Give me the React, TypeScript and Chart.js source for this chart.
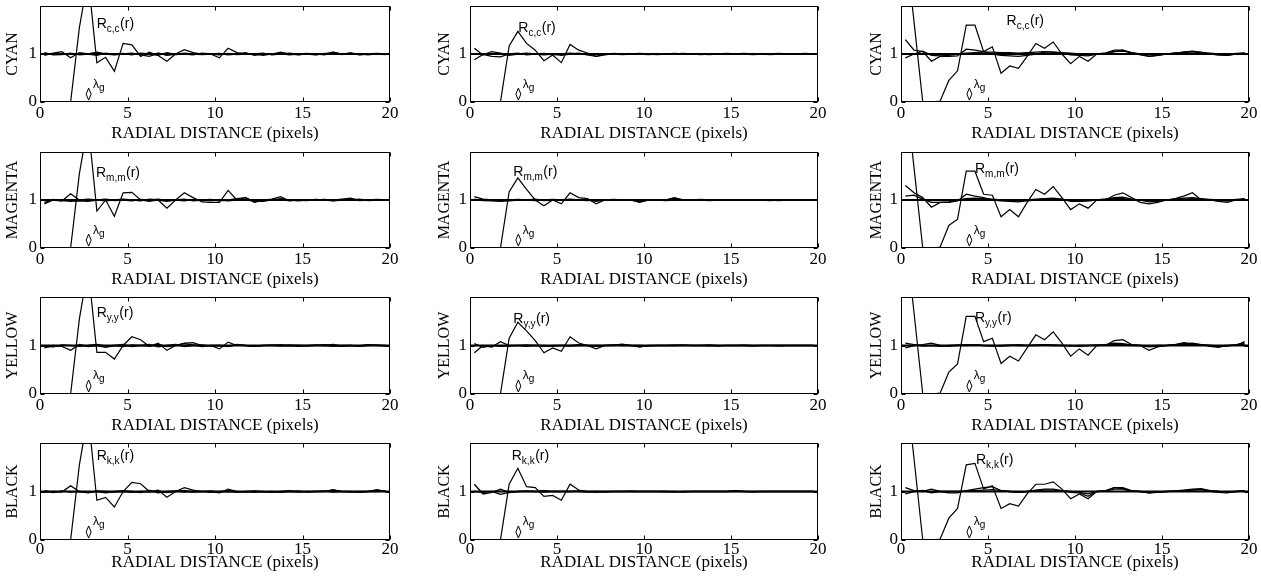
import React, { useEffect, useRef } from "react";
import { Chart, registerables } from "chart.js";

Chart.register(...registerables);

const SERIF = "'Liberation Serif', 'Times New Roman', serif";
const SANS = "'Liberation Sans', Arial, sans-serif";

// ---------- data ----------
const RADII = [
  0.25, 0.75, 1.25, 1.75, 2.25, 2.75, 3.25, 3.75, 4.25, 4.75,
  5.25, 5.75, 6.25, 6.75, 7.25, 7.75, 8.25, 8.75, 9.25, 9.75,
  10.25, 10.75, 11.25, 11.75, 12.25, 12.75, 13.25, 13.75, 14.25, 14.75,
  15.25, 15.75, 16.25, 16.75, 17.25, 17.75, 18.25, 18.75, 19.25, 19.75,
];
const X_TICKS = [0, 5, 10, 15, 20];
const Y_TICKS = [0, 1];
const ROW_NAMES = ["CYAN", "MAGENTA", "YELLOW", "BLACK"];
const ROW_SUBS = ["c,c", "m,m", "y,y", "k,k"];
const X_TITLE = "RADIAL DISTANCE (pixels)";
const LAMBDA_G = [2.78, 2.78, 3.93];
const REF_LEVEL = 1;

// autocorrelation R(r), column A
const R_CYAN_A = [0, 0, 0, 0, 1.55, 2.6, 0.82, 0.93, 0.64, 1.22, 1.19, 0.95, 1.04, 0.97, 0.85, 1.0, 1.09, 1.03, 1.0, 1.0, 0.92, 1.12, 1.03, 1.0, 1.0, 0.97, 1.0, 1.04, 1.0, 0.98, 1.0, 1.0, 0.98, 1.04, 1.0, 1.02, 1.0, 0.98, 1.0, 1.01];
const R_MAG_A = [0, 0, 0, 0, 1.55, 2.6, 0.77, 1.0, 0.66, 1.15, 1.16, 1.0, 0.97, 1.0, 0.83, 1.0, 1.15, 1.05, 0.96, 0.95, 0.95, 1.2, 1.0, 1.05, 0.95, 1.0, 1.02, 1.07, 0.98, 1.0, 1.0, 0.99, 1.01, 1.0, 1.02, 1.04, 0.99, 1.0, 1.0, 1.01];
const R_YEL_A = [0, 0, 0, 0, 1.55, 2.6, 0.86, 0.86, 0.72, 1.0, 1.18, 1.12, 0.98, 1.05, 0.9, 1.0, 1.05, 1.06, 1.0, 1.0, 0.93, 1.07, 1.0, 1.0, 0.98, 1.0, 1.0, 1.02, 1.0, 0.98, 1.0, 1.0, 1.02, 1.0, 0.98, 1.0, 1.0, 1.02, 1.0, 1.0];
const R_BLK_A = [0, 0, 0, 0, 1.55, 2.6, 0.82, 0.88, 0.68, 1.0, 1.19, 1.16, 1.0, 1.03, 0.88, 1.0, 1.08, 1.03, 1.0, 1.0, 0.97, 1.05, 1.0, 1.0, 0.98, 1.0, 1.0, 1.0, 1.02, 0.99, 1.0, 1.0, 1.0, 1.04, 1.0, 1.0, 0.98, 1.0, 1.04, 1.0];
// column B
const R_CYAN_B = [0, 0, 0, 0, 1.17, 1.47, 1.22, 1.08, 0.86, 0.98, 0.82, 1.2, 1.08, 1.02, 0.95, 1.0, 1.01, 1.0, 0.99, 1.0, 1.0, 1.01, 1.0, 1.0, 0.99, 1.0, 1.0, 1.01, 1.0, 1.0, 1.0, 0.99, 1.0, 1.0, 1.01, 1.0, 1.0, 1.0, 0.99, 1.0];
const R_MAG_B = [0, 0, 0, 0, 1.17, 1.46, 1.22, 1.0, 0.88, 1.0, 0.92, 1.15, 1.05, 1.03, 0.92, 1.0, 1.0, 1.01, 1.0, 0.95, 1.0, 1.01, 1.0, 1.05, 1.0, 1.0, 0.99, 1.0, 1.0, 1.0, 1.01, 1.0, 1.0, 1.0, 0.99, 1.0, 1.0, 1.0, 1.0, 1.0];
const R_YEL_B = [0, 0, 0, 0, 1.15, 1.48, 1.3, 1.1, 0.85, 0.95, 0.88, 1.18, 1.05, 1.0, 0.93, 1.0, 1.01, 1.03, 1.0, 0.97, 1.0, 1.0, 1.0, 1.01, 1.0, 1.0, 1.0, 0.99, 1.0, 1.0, 1.0, 1.01, 1.0, 1.0, 1.0, 0.99, 1.0, 1.0, 1.0, 1.0];
const R_BLK_B = [0, 0, 0, 0, 1.15, 1.48, 1.1, 1.08, 0.9, 0.92, 0.82, 1.15, 1.03, 1.0, 0.98, 1.0, 1.0, 1.0, 1.01, 1.0, 1.0, 1.0, 0.99, 1.0, 1.0, 1.0, 1.0, 1.0, 1.0, 1.0, 1.02, 1.0, 1.0, 1.0, 1.0, 1.0, 1.0, 1.0, 1.0, 1.0];
// column C
const R_CYAN_C = [3.3, 1.67, 0, 0, 0.02, 0.45, 0.65, 1.6, 1.6, 1.05, 1.15, 0.6, 0.75, 0.7, 0.95, 1.22, 1.12, 1.25, 1.0, 0.8, 0.95, 0.85, 1.0, 1.0, 1.05, 1.08, 1.02, 1.0, 0.95, 0.97, 1.0, 1.02, 1.04, 1.05, 1.02, 1.0, 0.98, 0.97, 1.0, 1.02];
const R_MAG_C = [3.3, 1.67, 0, 0, 0.02, 0.47, 0.6, 1.6, 1.6, 1.12, 1.1, 0.65, 0.8, 0.65, 0.95, 1.22, 1.12, 1.28, 1.05, 0.8, 0.92, 0.83, 1.0, 1.0, 1.1, 1.15, 1.05, 0.95, 0.92, 0.95, 1.0, 1.03, 1.08, 1.15, 1.0, 1.0, 0.97, 0.95, 1.0, 1.02];
const R_YEL_C = [3.3, 1.67, 0, 0, 0.02, 0.45, 0.62, 1.6, 1.6, 1.08, 1.15, 0.63, 0.78, 0.68, 0.95, 1.22, 1.12, 1.28, 1.05, 0.78, 0.93, 0.8, 1.0, 1.0, 1.1, 1.12, 1.02, 1.0, 0.9, 0.97, 1.0, 1.02, 1.06, 1.03, 1.02, 0.98, 0.96, 1.0, 1.0, 1.08];
const R_BLK_C = [3.3, 1.67, 0, 0, 0.02, 0.45, 0.65, 1.55, 1.58, 1.05, 1.12, 0.65, 0.75, 0.7, 0.95, 1.15, 1.15, 1.2, 1.05, 0.85, 0.95, 0.85, 1.0, 1.0, 1.08, 1.06, 1.0, 1.0, 0.97, 0.98, 1.0, 1.0, 1.02, 1.03, 1.05, 1.0, 0.98, 0.97, 1.0, 1.02];

// cross-correlations, column A
const X_CYAN_A1 = [0.97, 1.02, 1.05, 0.92, 1.03, 1.0, 1.04, 1.0, 0.98, 1.0, 1.02, 0.98, 0.95, 1.02, 0.97, 0.99, 1.02, 1.0, 0.99, 1.0, 1.01, 0.98, 1.0, 1.03, 0.97, 1.0, 1.0, 1.01, 0.98, 1.0, 1.01, 0.99, 1.0, 1.04, 0.99, 1.02, 0.98, 1.0, 1.01, 1.0];
const X_CYAN_A2 = [1.03, 0.98, 0.99, 1.02, 0.98, 1.0, 0.97, 1.02, 0.99, 1.01, 0.98, 1.02, 1.0, 0.97, 1.03, 0.99, 1.0, 0.98, 1.02, 1.0, 0.98, 1.01, 0.99, 1.0, 1.0, 1.02, 0.98, 1.0, 1.02, 0.99, 1.0, 0.98, 1.01, 1.0, 1.0, 1.02, 0.99, 1.0, 1.0, 0.99];
const X_MAG_A1 = [0.92, 1.0, 0.98, 1.13, 1.0, 1.02, 1.0, 0.98, 1.0, 1.02, 1.0, 0.98, 1.02, 1.0, 0.97, 1.0, 1.02, 0.98, 1.0, 1.01, 0.98, 1.0, 1.03, 1.05, 0.96, 0.98, 1.0, 1.03, 1.0, 0.98, 1.0, 1.0, 1.01, 0.99, 1.0, 1.03, 0.99, 1.0, 1.01, 1.0];
const X_MAG_A2 = [0.95, 1.01, 0.99, 0.97, 0.98, 0.97, 1.0, 1.02, 0.99, 1.0, 0.98, 1.01, 1.0, 1.02, 0.99, 1.0, 0.98, 1.01, 1.0, 0.99, 1.0, 0.98, 1.0, 1.0, 0.98, 0.97, 1.01, 1.0, 0.99, 1.0, 0.99, 1.01, 1.0, 0.98, 1.0, 1.0, 1.02, 0.99, 1.0, 1.0];
const X_YEL_A1 = [0.95, 1.0, 0.98, 0.9, 1.02, 0.98, 1.0, 0.96, 1.0, 1.02, 0.98, 1.0, 1.02, 0.97, 1.0, 1.02, 0.98, 1.0, 1.01, 0.99, 1.0, 0.98, 1.02, 1.0, 0.99, 1.0, 1.01, 1.0, 0.99, 1.0, 1.0, 1.01, 1.0, 0.98, 1.0, 1.0, 0.98, 1.0, 1.01, 1.0];
const X_YEL_A2 = [0.98, 0.97, 1.01, 1.0, 0.98, 1.0, 1.02, 0.99, 1.0, 0.98, 1.01, 1.0, 0.99, 1.02, 0.98, 1.0, 1.04, 1.01, 0.98, 1.0, 1.0, 0.99, 1.01, 1.0, 0.98, 1.0, 1.0, 0.99, 1.01, 1.0, 0.99, 1.0, 1.0, 1.02, 0.99, 1.0, 0.99, 1.01, 1.0, 0.99];
const X_BLK_A1 = [0.98, 1.0, 0.99, 1.12, 1.0, 0.98, 1.0, 0.97, 1.0, 1.02, 1.0, 0.98, 1.02, 0.97, 1.0, 1.01, 0.99, 1.0, 1.0, 0.98, 1.0, 1.02, 1.0, 0.99, 1.0, 1.0, 0.98, 1.0, 1.0, 0.99, 1.0, 1.0, 1.0, 1.03, 1.0, 0.99, 1.0, 1.0, 1.03, 1.0];
const X_BLK_A2 = [1.02, 0.98, 1.01, 0.99, 1.0, 0.97, 1.01, 1.0, 0.99, 1.0, 0.98, 1.0, 0.99, 1.01, 0.98, 1.0, 1.02, 0.99, 1.0, 1.01, 0.99, 1.0, 0.98, 1.0, 1.01, 0.99, 1.0, 0.98, 1.0, 1.01, 0.99, 1.0, 1.01, 0.99, 1.0, 1.0, 0.99, 1.0, 1.0, 1.01];
// column B
const X_CYAN_B1 = [1.12, 0.98, 1.05, 1.02, 0.97, 1.0, 1.02, 1.0, 0.98, 1.0, 0.97, 1.0, 1.02, 0.98, 0.95, 0.98, 1.01, 1.0, 1.0, 1.01, 1.0, 0.99, 1.0, 1.0, 1.01, 1.0, 0.99, 1.0, 1.0, 1.01, 1.0, 1.0, 0.99, 1.0, 1.0, 1.01, 1.0, 1.0, 1.0, 1.0];
const X_CYAN_B2 = [0.88, 0.99, 0.95, 0.94, 1.0, 1.02, 0.98, 1.0, 1.01, 0.98, 1.0, 1.02, 1.0, 0.99, 1.0, 1.0, 1.0, 0.99, 1.0, 1.0, 0.99, 1.0, 1.0, 1.01, 1.0, 1.0, 1.0, 0.99, 1.0, 1.0, 1.0, 1.01, 1.0, 1.0, 0.99, 1.0, 1.0, 1.0, 1.01, 1.0];
const X_MAG_B1 = [1.07, 1.02, 1.0, 0.98, 1.0, 1.01, 1.0, 1.02, 0.99, 1.0, 1.0, 1.02, 1.0, 1.0, 0.97, 1.0, 1.0, 1.0, 1.0, 0.96, 1.0, 1.0, 1.0, 1.04, 1.0, 1.0, 1.0, 0.99, 1.0, 1.0, 1.0, 1.0, 1.0, 1.0, 1.0, 0.99, 1.0, 1.0, 1.0, 1.0];
const X_MAG_B2 = [1.02, 0.99, 0.98, 0.97, 0.98, 1.0, 1.0, 0.99, 1.0, 1.01, 1.0, 1.0, 1.0, 0.99, 1.0, 1.0, 1.01, 1.0, 1.0, 1.0, 1.0, 1.0, 0.99, 1.0, 1.0, 1.0, 1.01, 1.0, 1.0, 1.0, 1.0, 1.0, 1.0, 1.0, 0.99, 1.0, 1.0, 1.0, 1.0, 1.0];
const X_YEL_B1 = [0.85, 1.0, 0.97, 1.08, 1.0, 1.0, 0.98, 1.0, 1.0, 0.98, 1.0, 1.0, 1.02, 1.0, 0.98, 1.0, 1.0, 1.02, 1.0, 0.97, 1.0, 1.0, 1.0, 1.0, 1.01, 1.0, 1.0, 1.0, 0.99, 1.0, 1.0, 1.0, 1.0, 1.0, 1.0, 1.0, 1.0, 1.0, 1.0, 1.0];
const X_YEL_B2 = [1.04, 0.96, 1.0, 0.98, 0.99, 1.0, 1.01, 1.0, 0.98, 1.0, 1.0, 0.99, 1.0, 1.0, 1.0, 1.0, 1.01, 1.0, 1.0, 1.0, 0.99, 1.0, 1.0, 1.0, 1.0, 1.0, 1.0, 1.01, 1.0, 1.0, 1.0, 1.0, 0.99, 1.0, 1.0, 1.0, 1.0, 1.0, 1.0, 1.0];
const X_BLK_B1 = [1.15, 0.95, 0.98, 1.05, 0.98, 1.0, 1.0, 1.0, 1.02, 1.0, 1.0, 1.0, 1.0, 0.99, 1.0, 1.0, 1.0, 1.0, 1.0, 1.0, 1.0, 1.0, 1.0, 1.0, 0.99, 1.0, 1.0, 1.0, 1.0, 1.0, 1.02, 1.0, 1.0, 1.0, 1.0, 1.0, 1.0, 1.0, 1.0, 1.0];
const X_BLK_B2 = [1.0, 0.98, 1.0, 0.94, 0.98, 1.0, 1.01, 1.0, 0.99, 1.0, 1.0, 1.0, 1.01, 1.0, 1.0, 0.99, 1.0, 1.0, 1.0, 1.0, 1.0, 1.0, 1.0, 0.99, 1.0, 1.0, 1.0, 1.0, 1.0, 1.0, 1.0, 1.0, 0.99, 1.0, 1.0, 1.0, 1.0, 1.0, 1.0, 1.0];
// column C
const X_CYAN_C1 = [1.3, 1.08, 1.05, 0.85, 0.95, 0.95, 0.96, 1.1, 1.08, 1.05, 1.0, 0.97, 0.96, 0.95, 0.97, 1.0, 1.04, 1.04, 1.02, 0.98, 0.97, 0.96, 1.0, 1.02, 1.08, 1.08, 1.03, 0.98, 0.95, 0.97, 1.0, 1.02, 1.04, 1.06, 1.04, 1.0, 0.98, 0.97, 1.0, 1.02];
const X_CYAN_C2 = [0.92, 1.0, 1.06, 0.97, 0.96, 0.97, 1.0, 1.02, 1.03, 1.04, 1.04, 1.03, 1.03, 1.02, 1.03, 1.04, 1.05, 1.04, 1.03, 1.02, 1.0, 0.98, 1.0, 1.02, 1.05, 1.06, 1.03, 1.0, 0.98, 0.99, 1.0, 1.02, 1.03, 1.05, 1.03, 1.02, 1.0, 0.99, 1.01, 1.02];
const X_MAG_C1 = [1.3, 1.15, 1.05, 0.85, 0.95, 0.95, 0.98, 1.12, 1.08, 1.05, 1.0, 0.98, 0.97, 0.96, 0.98, 1.0, 1.03, 1.04, 1.02, 0.97, 0.97, 0.98, 1.0, 1.02, 1.05, 1.06, 1.02, 1.0, 0.96, 0.97, 1.0, 1.02, 1.04, 1.05, 1.03, 1.0, 0.99, 0.98, 1.0, 1.03];
const X_MAG_C2 = [1.08, 1.1, 1.02, 0.95, 0.95, 0.96, 1.0, 1.03, 1.04, 1.03, 1.02, 1.0, 0.98, 0.98, 1.0, 1.02, 1.03, 1.02, 1.01, 1.0, 0.98, 0.99, 1.0, 1.02, 1.03, 1.03, 1.01, 1.0, 0.98, 0.99, 1.0, 1.01, 1.02, 1.03, 1.02, 1.01, 1.0, 0.99, 1.01, 1.02];
const X_YEL_C1 = [0.95, 1.0, 1.02, 1.05, 1.0, 0.98, 1.0, 1.02, 1.01, 1.0, 1.0, 0.99, 1.0, 1.02, 1.0, 1.01, 1.02, 1.01, 1.0, 1.0, 0.98, 1.0, 1.01, 1.02, 1.05, 1.04, 1.01, 1.0, 0.97, 0.99, 1.0, 1.02, 1.04, 1.05, 1.02, 1.0, 0.98, 0.99, 1.02, 1.05];
const X_YEL_C2 = [1.05, 1.02, 0.99, 1.0, 0.98, 1.0, 1.01, 1.0, 1.02, 1.0, 0.99, 1.0, 1.01, 1.0, 1.0, 1.0, 1.01, 1.0, 1.0, 0.99, 1.0, 1.0, 1.0, 1.01, 1.02, 1.02, 1.0, 1.0, 0.99, 1.0, 1.0, 1.01, 1.02, 1.03, 1.01, 1.0, 0.99, 1.0, 1.01, 1.02];
const X_BLK_C1 = [1.08, 1.02, 1.0, 1.05, 1.0, 0.97, 0.97, 1.02, 1.05, 1.08, 1.1, 1.02, 1.0, 0.98, 1.0, 1.03, 1.05, 1.05, 1.02, 0.98, 0.97, 0.9, 1.0, 1.02, 1.08, 1.08, 1.02, 1.0, 0.97, 0.99, 1.0, 1.01, 1.03, 1.05, 1.06, 1.02, 1.0, 0.98, 1.0, 1.02];
const X_BLK_C2 = [0.95, 1.0, 1.02, 0.97, 1.0, 1.0, 1.0, 1.01, 1.02, 1.03, 1.04, 1.02, 1.0, 0.98, 1.0, 1.02, 1.03, 1.03, 1.02, 1.0, 0.98, 0.95, 1.0, 1.01, 1.05, 1.05, 1.01, 1.0, 0.98, 0.99, 1.0, 1.01, 1.02, 1.03, 1.04, 1.02, 1.0, 0.99, 1.0, 1.01];

const R_SERIES = [
  [R_CYAN_A, R_CYAN_B, R_CYAN_C],
  [R_MAG_A, R_MAG_B, R_MAG_C],
  [R_YEL_A, R_YEL_B, R_YEL_C],
  [R_BLK_A, R_BLK_B, R_BLK_C],
];
const CROSS_SERIES = [
  [[X_CYAN_A1, X_CYAN_A2], [X_CYAN_B1, X_CYAN_B2], [X_CYAN_C1, X_CYAN_C2]],
  [[X_MAG_A1, X_MAG_A2], [X_MAG_B1, X_MAG_B2], [X_MAG_C1, X_MAG_C2]],
  [[X_YEL_A1, X_YEL_A2], [X_YEL_B1, X_YEL_B2], [X_YEL_C1, X_YEL_C2]],
  [[X_BLK_A1, X_BLK_A2], [X_BLK_B1, X_BLK_B2], [X_BLK_C1, X_BLK_C2]],
];
// annotation anchors (data units) for the R label in each panel
const R_LABEL_X = [[3.24, 2.78, 6.07], [3.2, 2.49, 4.25], [3.24, 2.49, 4.25], [3.24, 2.4, 4.31]];
const R_LABEL_Y = [[1.535, 1.465, 1.6], [1.47, 1.5, 1.56], [1.58, 1.47, 1.49], [1.65, 1.65, 1.56]];

// ---------- layout ----------
const COL_CANVAS_LEFT = [0, 420, 840];
const COL_CANVAS_RIGHT = [410, 840, 1261];
const COL_PLOT_LEFT = [40, 470, 901];
const COL_PLOT_RIGHT = [390, 818, 1249];
const COL_YTITLE_PAD = [2.9, 15.4, 26.9];
const ROW_PLOT_TOP = [6, 152, 297, 443];
const ROW_PLOT_H = [96, 96, 97, 97];
const ROW_XTITLE_PAD = [2.6, 2.0, 2.0, 11.3];
const ROW_XTICK_PAD = [1, 1, 1, -1];
const TOP_PAD = 14;
const X_AXIS_H = 44;

const decoPlugin = {
  id: "deco",
  afterDatasetsDraw(chart: any, _args: any, opts: any) {
    const { ctx, chartArea, scales } = chart;
    const x = scales.x;
    const y = scales.y;
    const L = Math.round(chartArea.left) + 0.5;
    const R = Math.round(chartArea.right) - 0.5;
    const T = Math.round(chartArea.top) + 0.5;
    const B = Math.round(chartArea.bottom) - 0.5;
    ctx.save();
    ctx.strokeStyle = "#000";
    ctx.lineWidth = 1;
    ctx.strokeRect(L, T, R - L, B - T);
    ctx.beginPath();
    for (const v of X_TICKS) {
      const px = Math.round(x.getPixelForValue(v)) + 0.5;
      ctx.moveTo(px, B);
      ctx.lineTo(px, B - 4);
      ctx.moveTo(px, T);
      ctx.lineTo(px, T + 4);
    }
    for (const v of Y_TICKS) {
      const py = Math.round(y.getPixelForValue(v)) + 0.5;
      ctx.moveTo(L, py);
      ctx.lineTo(L + 4, py);
      ctx.moveTo(R, py);
      ctx.lineTo(R - 4, py);
    }
    ctx.stroke();

    // lambda_g marker
    const lx = x.getPixelForValue(opts.lambda);
    const yt = y.getPixelForValue(0.29);
    const yb = y.getPixelForValue(0.04);
    const ym = (yt + yb) / 2;
    ctx.beginPath();
    ctx.moveTo(lx, yt);
    ctx.lineTo(lx + 2.5, ym);
    ctx.lineTo(lx, yb);
    ctx.lineTo(lx - 2.5, ym);
    ctx.closePath();
    ctx.stroke();
    ctx.fillStyle = "#000";
    ctx.textAlign = "left";
    ctx.textBaseline = "alphabetic";
    const lyb = y.getPixelForValue(0.3);
    ctx.font = `12px ${SANS}`;
    ctx.fillText("λ", lx + 4.3, lyb);
    const lw = ctx.measureText("λ").width;
    ctx.font = `10px ${SANS}`;
    ctx.fillText("g", lx + 4.3 + lw, lyb + 3);

    // R label
    const rx = x.getPixelForValue(opts.labelX);
    const ry = y.getPixelForValue(opts.labelY);
    ctx.font = `14px ${SANS}`;
    ctx.fillText("R", rx, ry);
    let cx = rx + ctx.measureText("R").width;
    ctx.font = `10px ${SANS}`;
    ctx.fillText(opts.sub, cx, ry + 4);
    cx += ctx.measureText(opts.sub).width + 0.5;
    ctx.font = `14px ${SANS}`;
    ctx.fillText("(r)", cx, ry);
    ctx.restore();
  },
};

function toPoints(vals: number[]) {
  return RADII.map((r, i) => ({ x: r, y: vals[i] }));
}

function Panel({ row, col }: { row: number; col: number }) {
  const ref = useRef<HTMLCanvasElement>(null);
  const left = COL_CANVAS_LEFT[col];
  const top = ROW_PLOT_TOP[row] - TOP_PAD;
  const width = COL_CANVAS_RIGHT[col] - left;
  const height = TOP_PAD + ROW_PLOT_H[row] + X_AXIS_H;

  useEffect(() => {
    const canvas = ref.current!;
    const cross = CROSS_SERIES[row][col];
    const lineBase = { pointRadius: 0, borderColor: "#000", tension: 0, fill: false };
    const chart = new Chart(canvas, {
      type: "line",
      data: {
        datasets: [
          { ...lineBase, data: [{ x: 0, y: REF_LEVEL }, { x: 20, y: REF_LEVEL }], borderWidth: 2 },
          { ...lineBase, data: toPoints(cross[0]), borderWidth: 1.3 },
          { ...lineBase, data: toPoints(cross[1]), borderWidth: 1.3 },
          { ...lineBase, data: toPoints(R_SERIES[row][col]), borderWidth: 1.2 },
        ],
      },
      options: {
        responsive: false,
        animation: false,
        devicePixelRatio: 1,
        events: [],
        layout: {
          padding: { top: TOP_PAD, left: 0, bottom: 0, right: COL_CANVAS_RIGHT[col] - COL_PLOT_RIGHT[col] },
        },
        plugins: {
          legend: { display: false },
          tooltip: { enabled: false },
          deco: {
            lambda: LAMBDA_G[col],
            labelX: R_LABEL_X[row][col],
            labelY: R_LABEL_Y[row][col],
            sub: ROW_SUBS[row],
          },
        } as any,
        scales: {
          x: {
            type: "linear",
            min: 0,
            max: 20,
            grid: { display: false, drawTicks: false },
            border: { display: false },
            afterBuildTicks: (s: any) => {
              s.ticks = X_TICKS.map((v) => ({ value: v }));
            },
            afterFit: (s: any) => {
              s.height = X_AXIS_H;
            },
            ticks: {
              autoSkip: false,
              maxRotation: 0,
              padding: ROW_XTICK_PAD[row],
              color: "#000",
              font: { family: SERIF, size: 17 },
            },
            title: {
              display: true,
              text: X_TITLE,
              color: "#000",
              font: { family: SERIF, size: 17 },
              padding: { top: 0, bottom: ROW_XTITLE_PAD[row] },
            },
          },
          y: {
            type: "linear",
            min: 0,
            max: 2,
            grid: { display: false, drawTicks: false },
            border: { display: false },
            afterBuildTicks: (s: any) => {
              s.ticks = Y_TICKS.map((v) => ({ value: v }));
            },
            afterFit: (s: any) => {
              s.width = COL_PLOT_LEFT[col] - COL_CANVAS_LEFT[col];
            },
            ticks: {
              padding: 3,
              color: "#000",
              font: { family: SERIF, size: 17 },
            },
            title: {
              display: true,
              text: ROW_NAMES[row],
              color: "#000",
              font: { family: SERIF, size: 16 },
              padding: { top: COL_YTITLE_PAD[col], bottom: 0 },
            },
          },
        },
      },
      plugins: [decoPlugin],
    } as any);
    return () => chart.destroy();
  }, [row, col]);

  return (
    <canvas
      ref={ref}
      width={width}
      height={height}
      style={{ position: "absolute", left, top, width, height }}
    />
  );
}

export default function App() {
  const cells: React.ReactElement[] = [];
  for (let r = 0; r < 4; r++) {
    for (let c = 0; c < 3; c++) {
      cells.push(<Panel key={`${r}-${c}`} row={r} col={c} />);
    }
  }
  return (
    <div
      style={{
        position: "absolute",
        left: 0,
        top: 0,
        width: 1261,
        height: 584,
        background: "#fff",
        overflow: "hidden",
      }}
    >
      {cells}
    </div>
  );
}
